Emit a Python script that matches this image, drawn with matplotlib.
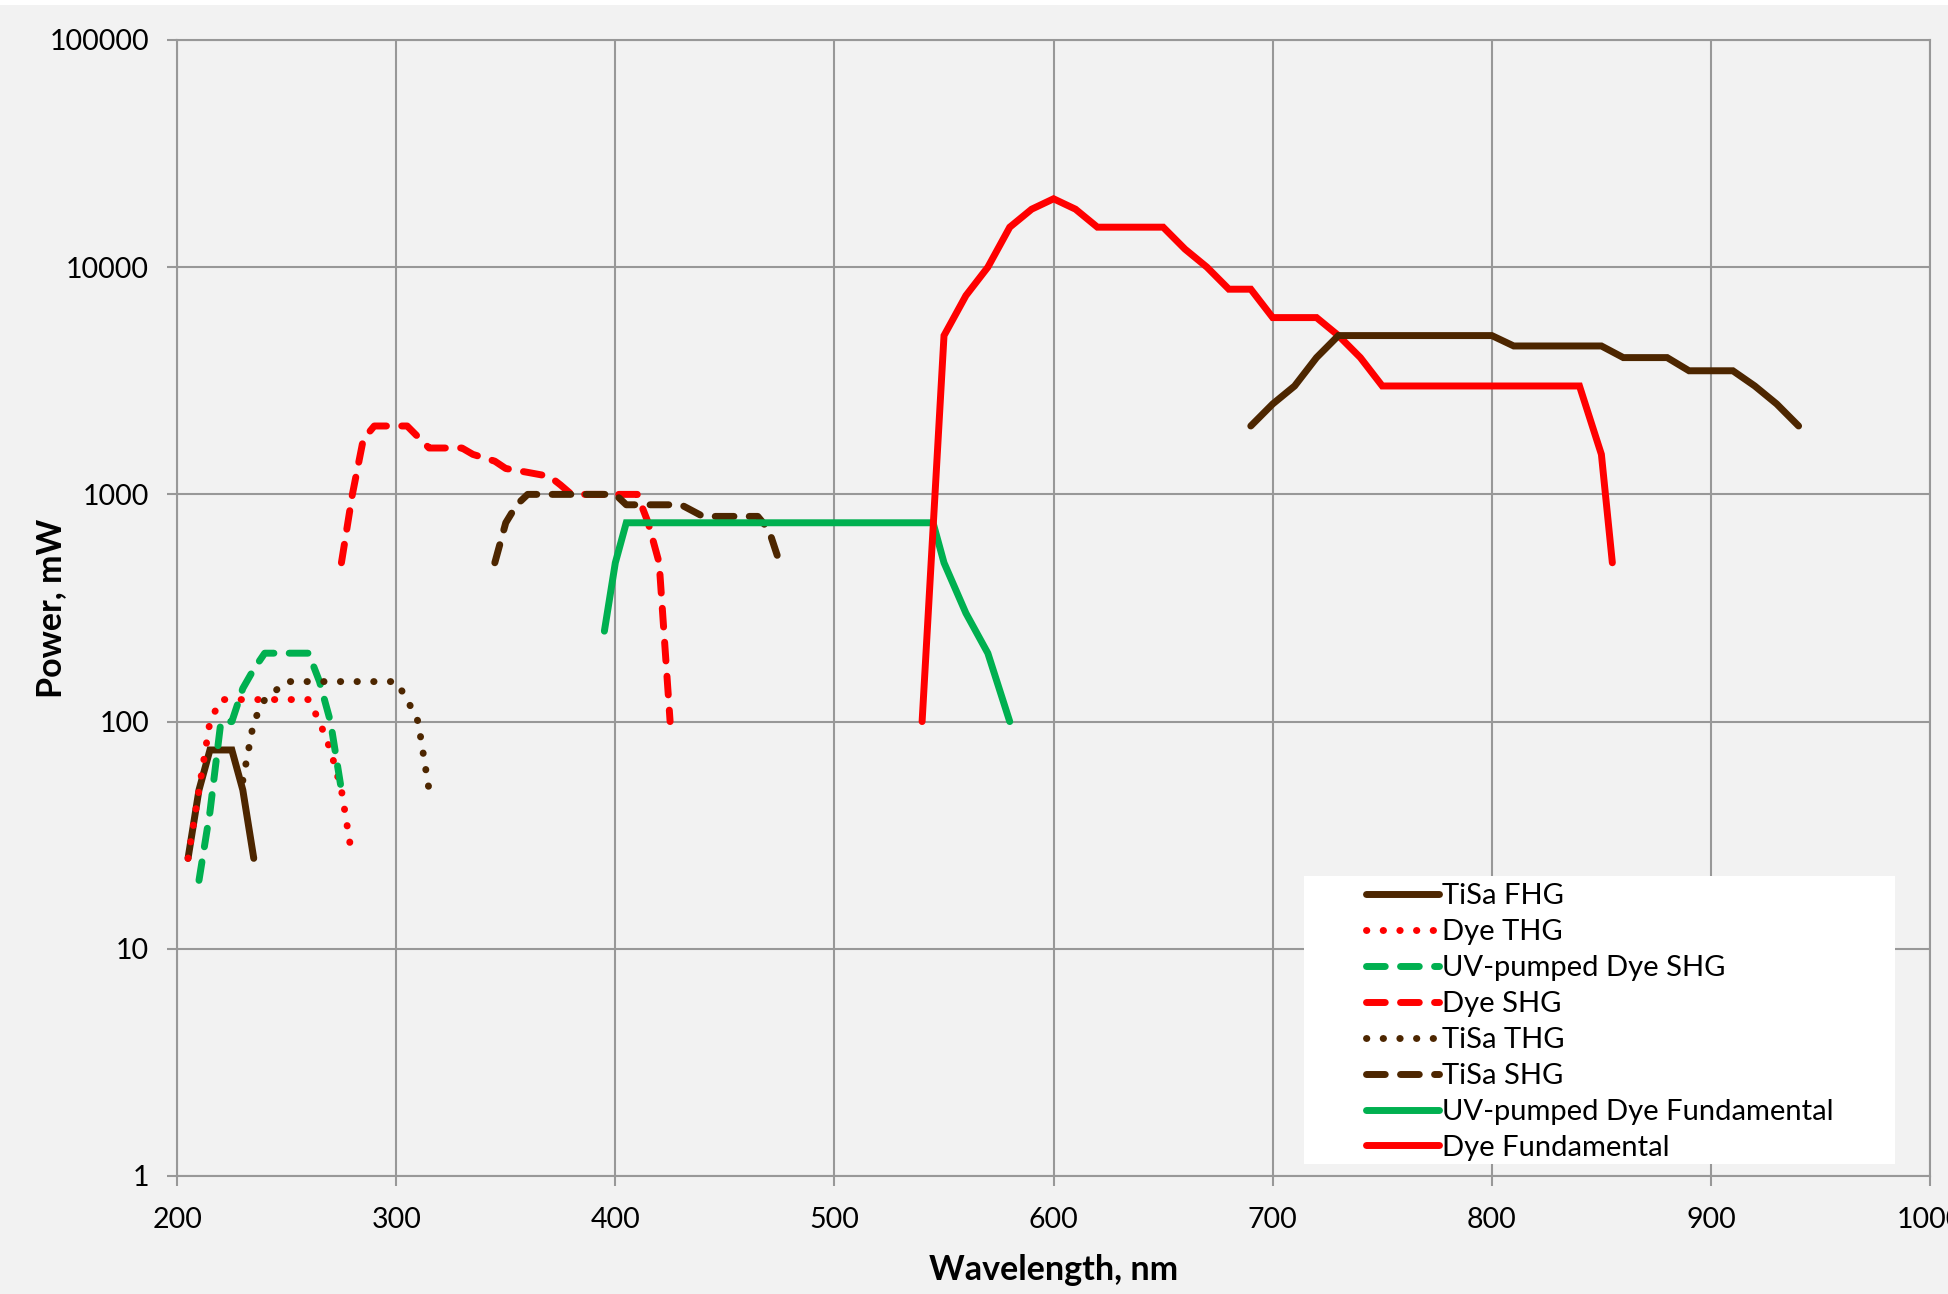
import matplotlib
matplotlib.use("Agg")
import matplotlib.pyplot as plt
from matplotlib.patches import Rectangle

plt.rcParams['font.family'] = ['Lato', 'DejaVu Sans']

# Dati (lunghezza d'onda in nm, potenza in mW)
tisa_fhg_x = [205, 210, 215, 220, 225, 230, 235]
tisa_fhg_y = [25, 50, 75, 75, 75, 50, 25]

dye_thg_x = [205, 210, 215, 220, 260, 265, 270, 275, 280]
dye_thg_y = [25, 50, 100, 125, 125, 100, 75, 50, 25]

uv_shg_x = [210, 215, 220, 225, 230, 235, 240, 260, 265, 270, 275]
uv_shg_y = [20, 40, 100, 100, 140, 170, 200, 200, 150, 100, 50]

dye_shg_x = [275, 280, 285, 290, 305, 315, 330, 335, 345, 350, 360, 370, 375, 380, 410, 415, 420, 425]
dye_shg_y = [500, 1000, 1750, 2000, 2000, 1600, 1600, 1500, 1400, 1300, 1250, 1200, 1100, 1000, 1000, 750, 500, 100]

tisa_thg_x = [230, 235, 240, 250, 300, 305, 310, 315]
tisa_thg_y = [55, 100, 125, 150, 150, 125, 100, 50]

tisa_shg_x = [345, 350, 355, 360, 400, 405, 430, 440, 465, 470, 475]
tisa_shg_y = [500, 750, 900, 1000, 1000, 900, 900, 800, 800, 700, 500]

uv_fund_x = [395, 400, 405, 545, 550, 560, 570, 580]
uv_fund_y = [250, 500, 750, 750, 500, 300, 200, 100]

dye_fund_x = [540, 550, 560, 570, 580, 590, 600, 610, 620, 650, 660, 670, 680, 690,
              700, 720, 730, 740, 750, 840, 850, 855]
dye_fund_y = [100, 5000, 7500, 10000, 15000, 18000, 20000, 18000, 15000, 15000, 12000,
              10000, 8000, 8000, 6000, 6000, 5000, 4000, 3000, 3000, 1500, 500]

tisa_fund_x = [690, 700, 710, 720, 730, 800, 810, 850, 860, 880, 890, 910, 920, 930, 940]
tisa_fund_y = [2000, 2500, 3000, 4000, 5000, 5000, 4500, 4500, 4000, 4000, 3500, 3500, 3000, 2500, 2000]

x_ticks = [200, 300, 400, 500, 600, 700, 800, 900, 1000]
y_ticks = [1, 10, 100, 1000, 10000, 100000]
y_tick_labels = ['1', '10', '100', '1000', '10000', '100000']

brown = '#4d2600'
red = '#ff0000'
green = '#00b050'
bg = '#f2f2f2'
grid_col = '#989898'

lw = 5
solid = '-'
dotted = (0, (0.05, 2.35))
dashed = (0, (2.7, 2.2))

fig = plt.figure(figsize=(19.48, 12.94), dpi=100, facecolor=bg)
ax = fig.add_axes([0.0909, 0.0912, 0.9908 - 0.0909, 0.9691 - 0.0912])
ax.set_facecolor(bg)

series = [
    (tisa_fhg_x, tisa_fhg_y, brown, solid, 'TiSa FHG'),
    (dye_thg_x, dye_thg_y, red, dotted, 'Dye THG'),
    (uv_shg_x, uv_shg_y, green, dashed, 'UV-pumped Dye SHG'),
    (dye_shg_x, dye_shg_y, red, dashed, 'Dye SHG'),
    (tisa_thg_x, tisa_thg_y, brown, dotted, 'TiSa THG'),
    (tisa_shg_x, tisa_shg_y, brown, dashed, 'TiSa SHG'),
    (uv_fund_x, uv_fund_y, green, solid, 'UV-pumped Dye Fundamental'),
    (dye_fund_x, dye_fund_y, red, solid, 'Dye Fundamental'),
    (tisa_fund_x, tisa_fund_y, brown, solid, None),
]

for xs, ys, col, ls, lab in series:
    ax.plot(xs, ys, color=col, linestyle=ls, linewidth=lw, label=lab,
            dash_capstyle='round', solid_capstyle='round', solid_joinstyle='miter')

ax.set_yscale('log')
ax.set_xlim(200, 1000)
ax.set_ylim(1, 100000)
ax.set_xticks(x_ticks)
ax.set_xticklabels([str(v) for v in x_ticks])
ax.set_yticks(y_ticks)
ax.set_yticklabels(y_tick_labels)
ax.minorticks_off()

ax.grid(True, color=grid_col, linewidth=1.5)
for s in ax.spines.values():
    s.set_color(grid_col)
    s.set_linewidth(1.5)
ax.tick_params(axis='both', direction='out', length=7.2, width=1.5, color=grid_col,
               labelsize=20.5)
ax.tick_params(axis='x', pad=15)
ax.tick_params(axis='y', pad=13)

ax.set_xlabel('Wavelength, nm', fontsize=24.5, fontweight='bold')
ax.set_ylabel('Power, mW', fontsize=24.5, fontweight='bold')
ax.xaxis.set_label_coords(0.5, -0.0687)
ax.yaxis.set_label_coords(-0.0625, 0.5)

# riquadro bianco della legenda
ax.add_patch(Rectangle((0.643, 0.0106), 0.337, 0.2535, transform=ax.transAxes,
                       facecolor='white', edgecolor='none', zorder=3))
ax.legend(loc='upper left', bbox_to_anchor=(0.6697, 0.2705), frameon=False,
          fontsize=21, handlelength=2.5, handletextpad=0.12, labelspacing=0.34,
          borderpad=0.0)

# striscia bianca in alto
fig.patches.append(Rectangle((0, 1 - 5 / 1294), 1, 5 / 1294, transform=fig.transFigure,
                             facecolor='white', edgecolor='none'))

fig.savefig('out.png', dpi=100, facecolor=bg)
